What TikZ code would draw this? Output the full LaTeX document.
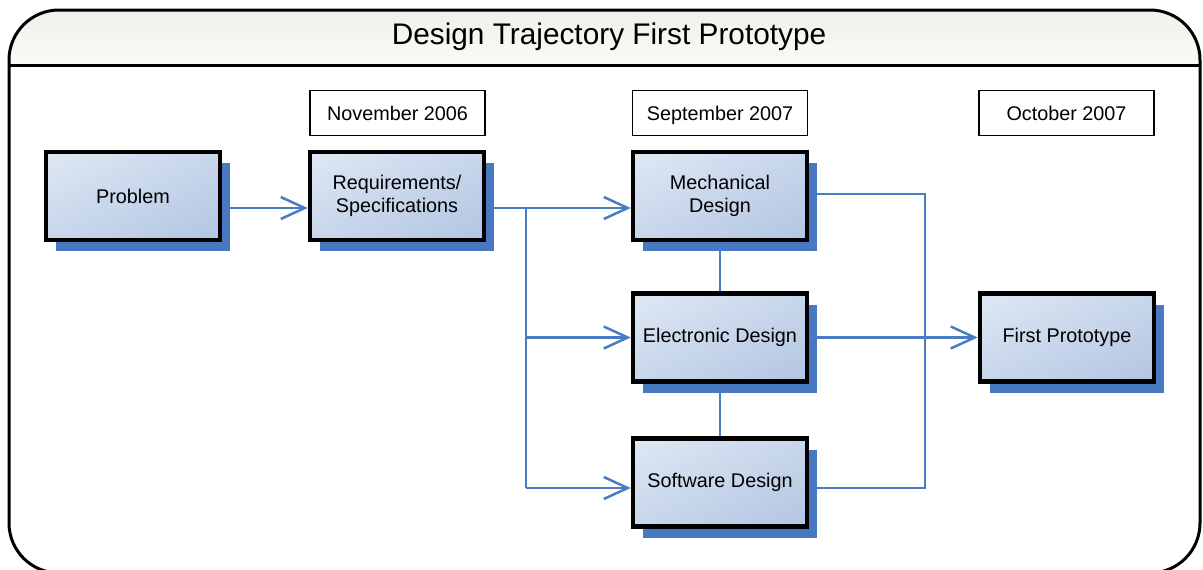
\documentclass[tikz,border=0pt]{standalone}
\usepackage{fontspec}
\setmainfont{Liberation Sans}
\usetikzlibrary{arrows.meta,shadows,shadings,calc}
\definecolor{lnblue}{HTML}{4A7CC4}
\definecolor{shblue}{HTML}{4878BF}
\definecolor{boxA}{HTML}{DFE8F4}
\definecolor{boxB}{HTML}{C8D6EB}
\definecolor{boxC}{HTML}{B2C5E1}
\definecolor{hdrA}{HTML}{EEF1EA}
\definecolor{hdrB}{HTML}{FAFBF8}
\tikzset{
  x=1pt,y=-1pt,
  mainbox/.style={draw=black, line width=4.5pt, minimum width=174pt, minimum height=88pt,
    align=center, font=\fontsize{19.8}{23}\selectfont,
    upper left=boxA, upper right=boxB, lower left=boxB, lower right=boxC,
    general shadow={fill=shblue, shadow xshift=10pt, shadow yshift=-11pt}},
  datebox/.style={draw=black, line width=1.3pt, fill=white, minimum width=175pt, minimum height=45pt,
    text height=14pt, text depth=0pt, font=\fontsize{19.8}{22}\selectfont},
  conn/.style={draw=lnblue, line width=2.5pt},
  arr/.style={conn, -{Straight Barb[length=24pt,width=22pt,line width=2.5pt]}}
}
\begin{document}
\begin{tikzpicture}
\useasboundingbox (0,0) rectangle (1203,570);
% frame
\begin{scope}
\clip[rounded corners=50pt] (9,10) rectangle (1200,573);
\shade[top color=hdrA, bottom color=hdrB] (9,10) rectangle (1200,65);
\end{scope}
\draw[line width=3pt, rounded corners=50pt] (9,10) rectangle (1200,573);
\draw[line width=3pt] (9,65) -- (1200,65);
\node[font=\fontsize{29.8}{34}\selectfont] (title) at (609,37) {Design Trajectory First Prototype};
% date boxes
\node[datebox] (d1) at (397.5,113) {November 2006};
\node[datebox] (d2) at (720,113) {September 2007};
\node[datebox] (d3) at (1066.5,113) {October 2007};
% main boxes
\node[mainbox] (prob) at (133,196) {Problem};
\node[mainbox] (req) at (397,196) {Requirements/\\Specifications};
\node[mainbox] (mech) at (720,196) {Mechanical\\Design};
\node[mainbox] (elec) at (720,337.5) {Electronic Design};
\node[mainbox] (soft) at (720,482.5) {Software Design};
\node[mainbox] (proto) at (1067,337.5) {First Prototype};
% junction coordinates
\coordinate (j1) at (526,208);
\coordinate (j2) at (526,488);
\coordinate (k1) at (925,194);
\coordinate (k2) at (925,488);
% connectors
\draw[arr] (prob.east |- j1) -- (req.west |- j1);
\draw[arr] (req.east |- j1) -- (mech.west |- j1);
\draw[conn] (j1) -- (j2);
\draw[arr] (j1 |- elec.west) -- (elec.west);
\draw[arr] (j2) -- (soft.west |- j2);
\draw[conn] (mech.east |- k1) -- (k1) -- (k2) -- (soft.east |- k2);
\draw[arr] (elec.east) -- (proto.west);
\draw[conn] (mech.south) -- (elec.north);
\draw[conn] (elec.south) -- (soft.north);
\end{tikzpicture}
\end{document}
